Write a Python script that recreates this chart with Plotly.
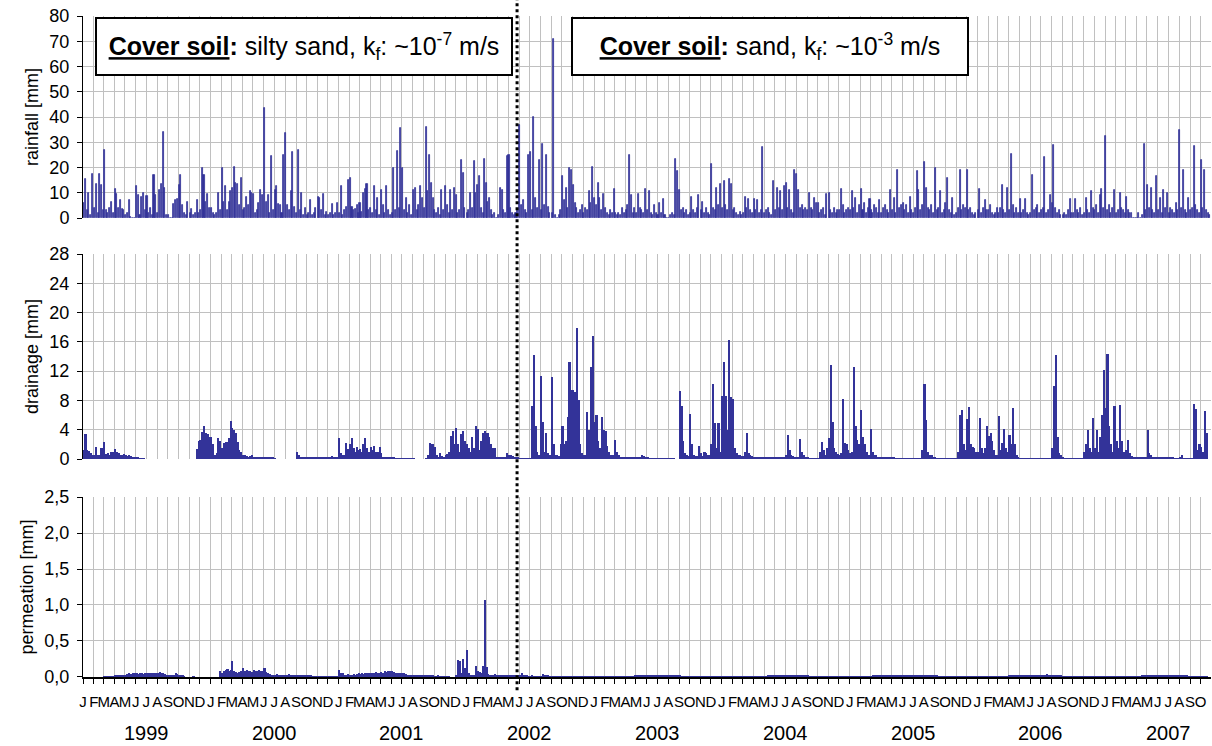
import pandas as pd
import plotly.graph_objects as go

# sample days inside every month (one per ~5 days)
SAMPLE_DAYS = [3, 8, 13, 18, 23, 28]
MONTH_LETTERS = ["J", "F", "M", "A", "M", "J", "J", "A", "S", "O", "N", "D"]
YEARS = [1999, 2000, 2001, 2002, 2003, 2004, 2005, 2006, 2007]

# rainfall [mm]
rain_1999 = [[6, 15.5, 3, 10, 1, 17.5], [4, 13.5, 2, 17.5, 13, 3], [27, 3, 2, 4, 6.5, 2],
             [11.5, 9.5, 4, 7, 3.5, 3], [1, 2, 7, 0.5, 0, 0], [12.5, 9, 1, 8.5, 10, 3],
             [8.7, 2, 4, 1, 17, 9], [2, 11, 13.5, 34, 12, 1], [1, 0, 0, 5.5, 7, 7.5],
             [13, 17, 5, 2, 1, 6.5], [2, 3.5, 1, 2, 7, 2], [3, 20, 17, 6.5, 9.5, 4]]
rain_2000 = [[4, 2, 1, 2, 10, 3], [20, 6.5, 12.5, 3, 6.5, 10.5], [11.8, 20.3, 14, 13.5, 5, 15.7],
             [3, 4, 8.5, 5, 10.5, 10], [9.5, 2, 3, 6, 11, 9], [43.5, 6.5, 9, 2, 24.5, 3],
             [11, 12.5, 5.5, 5, 2, 25], [33.5, 5, 3, 10.5, 26, 4.5], [2, 26.8, 3, 10, 1, 4],
             [1, 2, 7, 1, 2, 4], [8.5, 8, 3, 9.5, 1, 2.5], [1, 2, 5.5, 1, 2, 6]]
rain_2001 = [[2, 12.8, 1, 3, 4.5, 15], [15.7, 4.5, 3, 3.5, 5, 2], [6, 2.5, 10, 11.5, 13.5, 3],
             [4, 2, 12.5, 3, 8, 1], [11, 5, 2, 12.5, 3, 1], [2, 20, 3, 26.5, 4, 35.6],
             [20, 3, 8, 2, 5, 1], [11, 12, 3, 5, 12.5, 8], [4, 36, 10.5, 25, 14, 8],
             [3, 2, 4, 1, 11, 3], [12.5, 5, 2, 11, 3, 12], [9, 2, 3, 23, 18, 4]]
rain_2002 = [[2, 3, 10, 4, 22.7, 10], [13, 16.5, 4, 2, 23.5, 14], [6.5, 8, 3, 1, 2, 0],
             [1, 12, 11, 3, 2, 24.5], [25, 4, 2, 1, 2, 3], [36.7, 5, 7, 3, 2, 25],
             [26, 3, 40, 8, 4, 23], [3, 29.5, 5, 25, 4.5, 2], [2, 71, 1, 0, 1, 3],
             [16.5, 7, 12, 4, 20, 19], [13, 6, 4, 2, 3, 5], [2, 4, 3, 10.5, 6, 20.3]]
rain_2003 = [[8, 5, 14, 8, 3, 9.5], [4, 2, 1, 3, 2, 11.5], [2, 1, 2, 1, 4, 2],
             [3, 5, 25, 9, 2, 4], [2, 9.5, 4, 3, 2, 11.5], [3, 10.5, 2, 1, 5, 2],
             [1, 6, 2, 7.5, 1, 0], [0, 1, 2, 1, 23.5, 18.5], [11, 3, 4, 2, 3, 1],
             [2, 8.5, 3, 2, 4, 9], [3, 6.5, 2, 4, 2, 1], [21.5, 4, 3, 12, 5, 13.5]]
rain_2004 = [[4, 14.5, 5, 3, 15.5, 13.5], [3, 4, 2, 1, 2.5, 1], [2, 8.5, 4, 7.5, 3, 2],
             [7.5, 3, 7, 2, 3, 28], [2, 3, 4, 2, 1, 14.5], [3, 12, 4, 10.5, 3, 12.5],
             [14, 4, 11, 3, 2, 19], [17.5, 11, 4, 5, 3, 4], [3, 10, 4, 3, 8, 6],
             [6, 2, 3, 4, 1, 9.5], [10, 3, 2, 4, 2, 3], [3, 11.5, 5, 2, 3, 4]]
rain_2005 = [[3, 10.5, 4, 8, 2, 5], [11.5, 3, 6, 2, 4, 7.5], [3, 2, 5, 4, 2, 7],
             [2, 4, 5, 3, 2, 11], [3, 8, 2, 19, 4, 5], [6, 3, 5, 2, 8.5, 3],
             [2, 4, 18.5, 11, 3, 5], [22, 12, 4, 3, 5, 2], [20, 3, 4, 10.5, 2, 3],
             [6, 16, 3, 2, 8, 1], [2, 4, 19, 3, 5, 4], [19, 3, 4, 2, 1, 2]]
rain_2006 = [[3, 11.5, 2, 4, 7, 3], [3, 5, 2, 1, 2, 4], [2, 4, 13, 3, 2, 12],
             [3, 25.5, 5, 2, 4, 2], [7.5, 2, 3, 7.5, 2, 1], [2, 17, 3, 4, 5, 2],
             [3, 4, 24, 2, 3, 9], [6, 29, 4, 2, 3, 1], [1, 2, 1, 3, 7.5, 2],
             [2, 7.5, 3, 2, 4, 1], [2, 8, 3, 2, 10.5, 4], [3, 5, 2, 9, 11.5, 4]]
rain_2007 = [[32.5, 3, 5, 2, 4, 11], [2, 3, 10, 4, 3, 2], [8.5, 3, 2, 2, 0, 0],
             [0, 2, 0, 1, 29.5, 3], [13, 4, 12, 3, 2, 16.5], [3, 8, 2, 11, 4, 10],
             [2, 4, 3, 2, 6, 3], [35, 4, 19, 3, 2, 8], [3, 4, 28.5, 5, 3, 2],
             [23, 4, 19, 3, 2, 1]]

# drainage [mm]  (None = no measurement)
N = None
drain_1999 = [[1.2, 3.4, 1.2, 1.1, 0.8, 0.5], [0.6, 1.6, 0.5, 0.6, 1.5, 0.6], [2.3, 0.7, 0.8, 0.6, 0.9, 1.0],
              [1.3, 0.9, 0.8, 0.6, 0.5, 0.7], [0.5, 0.4, 0.5, 0.4, 0.3, 0.3], [0.2, 0.15, 0.1, 0.08, 0.05, N],
              [N] * 6, [N] * 6, [N] * 6,
              [N] * 6, [N, N, N, N, 1.3, 2.5], [2.6, 3.7, 4.5, 3.6, 3.4, 3.0]]
drain_2000 = [[3.0, 2.0, 0.5, 0.8, 2.8, 2.5], [1.5, 2.2, 2.3, 2.3, 2.8, 5.2], [4.3, 4.0, 3.5, 2.3, 1.2, 0.9],
              [0.6, 0.5, 0.4, 0.3, 0.4, 0.5], [0.3, 0.25, 0.2, 0.2, 0.2, 0.2], [0.2, 0.2, 0.2, 0.2, 0.2, 0.15],
              [0.1, N, N, N, N, N], [N] * 6, [0.9, 0.5, 0.2, 0.15, 0.15, 0.15],
              [0.15, 0.15, 0.15, 0.15, 0.15, 0.15], [0.15, 0.15, 0.15, 0.2, 0.15, 0.2], [0.2, 0.3, 0.4, 0.3, 0.3, 0.3]]
drain_2001 = [[2.9, 0.8, 0.6, 0.5, 2.2, 1.3], [2.0, 2.9, 1.5, 1.0, 1.6, 1.2], [1.3, 1.0, 2.0, 2.9, 1.5, 1.0],
              [1.6, 1.2, 1.8, 1.0, 0.9, 1.7], [0.8, 0.3, 0.3, 0.2, 0.2, 0.15], [0.15, 0.15, 0.1, 0.1, 0.1, 0.1],
              [0.1, 0.1, 0.1, 0.1, 0.1, 0.1], [0.1, N, N, N, N, N], [N, 0.1, 0.5, 2.2, 2.0, 2.1],
              [1.6, 0.5, 0.3, 0.8, 0.4, 0.3], [0.6, 0.7, 0.9, 3.1, 3.8, 2.0], [4.2, 2.0, 1.0, 3.4, 3.8, 2.5]]
drain_2002 = [[2.0, 1.5, 1.0, 3.0, 1.5, 4.5], [4.1, 1.2, 2.5, 3.6, 3.8, 3.5], [3.5, 3.0, 2.0, 1.5, 1.5, 0.3],
              [0.2, 0.2, 0.2, 0.3, 0.3, 0.8], [0.6, 0.5, 0.4, 0.3, 0.3, 0.2], [0.1, 0.1, 0.1, 0.1, 0.1, 0.1],
              [0.1, 7.2, 14.2, 4.5, 1.0, 0.5], [11.4, 5.0, 1.0, 3.5, 0.8, 0.5], [11.2, 2.0, 0.5, 0.5, 0.4, 2.0],
              [4.5, 2.0, 2.5, 5.8, 13.2, 9.4], [9.4, 9.2, 17.9, 8.0, 2.0, 0.8], [0.5, 0.6, 6.4, 4.0, 12.5, 16.8]]
drain_2003 = [[5.0, 6.0, 2.5, 1.5, 5.7, 4.0], [3.8, 1.8, 1.0, 0.6, 0.5, 0.4], [2.6, 1.0, 0.5, 0.3, 0.2, 0.2],
              [0.2, 0.2, 0.2, 0.2, 0.2, 0.2], [0.2, 0.2, 0.3, 0.5, 0.4, 0.3], [0.2, 0.1, 0.1, 0.1, 0.1, 0.1],
              [0.1, 0.1, 0.1, 0.1, 0.1, 0.1], [0.1, 0.1, 0.1, 0.1, N, N], [9.3, 7.3, 2.5, 0.8, 0.5, 0.4],
              [6.2, 2.0, 0.5, 0.4, 0.4, 1.8], [0.8, 0.4, 1.0, 0.8, 0.5, 0.6], [2.0, 10.2, 4.9, 1.5, 4.9, 1.0]]
drain_2004 = [[8.6, 13.3, 8.6, 4.0, 16.2, 8.4], [8.2, 1.5, 0.8, 0.6, 0.5, 0.4], [0.4, 1.0, 3.5, 0.8, 0.5, 0.4],
              [0.3, 0.2, 0.15, 0.15, 0.15, 0.15], [0.15, 0.15, 0.15, 0.15, 0.15, 0.15], [0.15, 0.15, 0.15, 0.15, 0.15, 0.15],
              [0.5, 3.3, 1.2, 0.5, 0.4, 0.3], [0.3, 0.3, 2.7, 1.0, 0.5, 0.3], [0.15, 0.1, 0.1, 0.1, 0.1, 0.1],
              [0.1, 1.0, 2.3, 1.2, 0.5, 1.5], [2.8, 12.8, 5.1, 1.5, 1.0, 0.7], [0.5, 0.8, 8.2, 2.2, 2.0, 1.2]]
drain_2005 = [[0.8, 1.0, 12.6, 4.5, 2.6, 2.0], [6.7, 3.0, 2.0, 1.0, 0.6, 0.5], [4.1, 1.0, 0.6, 0.5, 0.3, 0.2],
              [0.2, 0.2, 0.2, 0.2, 0.2, 0.2], [0.2, 0.15, 0.1, 0.08, 0.05, 0.05], [0.05, 0.05, 0.05, 0.05, 0.05, 0.05],
              [0.05, 0.05, 0.05, 0.05, 0.05, 1.2], [10.3, 5.3, 1.0, 0.6, 0.5, 0.3], [0.2, 0.1, 0.1, 0.1, 0.1, 0.1],
              [0.1, 0.1, 0.1, 0.1, 0.1, 0.1], [0.1, 1.0, 6.0, 6.7, 2.0, 1.2], [5.5, 7.1, 2.0, 1.7, 1.5, 1.0]]
drain_2006 = [[1.0, 5.6, 1.5, 0.8, 1.5, 4.5], [3.2, 3.5, 2.5, 1.2, 0.5, 0.5], [5.9, 1.2, 2.2, 4.1, 1.5, 1.0],
              [3.3, 2.0, 6.9, 2.0, 0.5, 0.2], [0.1, 0.1, 0.1, 0.1, 0.1, 0.1], [0.1, 0.1, 0.1, 0.1, 0.1, 0.1],
              [0.1, 0.1, 0.1, 0.1, 0.1, 0.1], [1.5, 10.0, 14.2, 3.0, 0.8, 0.5], [0.3, 0.1, 0.1, 0.1, 0.1, 0.1],
              [0.1, 0.1, 0.1, 0.1, 0.1, 0.1], [1.0, 2.0, 4.0, 1.5, 1.0, 5.6], [1.5, 3.9, 1.0, 3.0, 6.0, 12.2]]
drain_2007 = [[6.9, 14.4, 4.5, 2.0, 1.0, 7.3], [2.5, 1.5, 7.4, 2.5, 1.0, 0.8], [1.2, 2.6, 0.8, 0.4, 0.3, 0.3],
              [0.3, 0.3, 0.3, 0.3, 0.3, 0.3], [4.0, 0.8, 0.5, 0.3, 0.2, 0.2], [0.2, 0.2, 0.2, 0.2, 0.2, 0.2],
              [0.2, 0.2, 0.15, 0.1, 0.05, 0.05], [0.3, 0.5, 0.1, 0.05, 0.05, 0.05], [0.05, 0.05, 7.5, 6.8, 1.2, 2.0],
              [1.7, 1.0, 6.5, 3.5, N, N]]

# permeation [mm]
perm_1999 = [[N] * 6, [N] * 6, [0.01, 0.01, 0.01, 0.01, 0.01, 0.01],
             [0.015, 0.02, 0.02, 0.02, 0.025, 0.03], [0.03, 0.04, 0.05, 0.04, 0.05, 0.05], [0.05, 0.04, 0.05, 0.05, 0.04, 0.05],
             [0.05, 0.06, 0.05, 0.06, 0.06, 0.06], [0.06, 0.07, 0.06, 0.05, 0.04, 0.03], [0.03, 0.02, 0.03, 0.03, 0.05, 0.04],
             [0.02, 0.02, 0.02, 0.01, N, N], [N, N, 0.01, N, N, N], [N] * 6]
perm_2000 = [[N, N, N, N, N, 0.08], [0.06, 0.08, 0.1, 0.11, 0.09, 0.1], [0.22, 0.08, 0.07, 0.06, 0.07, 0.08],
             [0.12, 0.09, 0.1, 0.08, 0.09, 0.07], [0.1, 0.09, 0.08, 0.1, 0.09, 0.08], [0.12, 0.07, 0.05, 0.04, 0.03, 0.03],
             [0.03, 0.04, 0.03, 0.03, 0.03, 0.03], [0.03, 0.03, 0.04, 0.03, 0.03, 0.03], [0.03, 0.02, 0.03, 0.03, 0.02, 0.02],
             [0.02, 0.02, 0.02, 0.01, 0.01, 0.01], [0.01, 0.01, 0.01, 0.01, 0.01, 0.01], [0.01, 0.01, 0.01, 0.01, 0.01, 0.01]]
perm_2001 = [[0.1, 0.06, 0.05, 0.03, 0.03, 0.04], [0.03, 0.03, 0.04, 0.03, 0.04, 0.05], [0.04, 0.05, 0.04, 0.06, 0.05, 0.05],
             [0.06, 0.05, 0.05, 0.07, 0.06, 0.06], [0.07, 0.06, 0.08, 0.07, 0.09, 0.08], [0.09, 0.07, 0.06, 0.05, 0.05, 0.05],
             [0.05, 0.06, 0.04, 0.03, 0.03, 0.03], [0.03, 0.03, 0.02, 0.03, 0.03, 0.02], [0.03, 0.02, 0.02, 0.03, 0.02, 0.02],
             [0.01, 0.01, 0.02, 0.01, 0.01, 0.01], [0.01, 0.01, 0.01, 0.0, 0.0, N], [0.02, 0.24, 0.22, 0.05, 0.25, 0.13]]
perm_2002 = [[0.37, 0.05, 0.03, 0.02, 0.03, 0.15], [0.08, 0.07, 0.06, 0.15, 1.07, 0.14], [0.04, 0.03, 0.03, 0.03, 0.04, 0.03],
             [0.03, 0.03, 0.03, 0.03, 0.03, 0.02], [0.02, 0.02, 0.02, 0.02, 0.03, 0.02], [0.02, 0.05, 0.03, 0.02, 0.02, 0.01],
             [0.01, 0.02, 0.01, 0.01, 0.01, 0.01], [0.01, 0.04, 0.02, 0.03, 0.02, 0.01], [0.01, 0.01, 0.01, 0.01, 0.01, 0.01],
             [0.01, 0.01, 0.01, 0.01, 0.01, 0.01], [0.01, 0.01, 0.01, 0.01, 0.01, 0.01], [0.01, 0.01, 0.01, 0.01, 0.01, 0.01]]
perm_2003 = [[0.01, 0.01, 0.01, 0.01, 0.01, 0.01], [0.01, 0.01, 0.01, 0.01, 0.01, 0.01], [0.01, 0.01, 0.01, 0.01, 0.01, 0.01],
             [0.01, 0.01, 0.01, 0.01, 0.01, 0.015], [0.02, 0.02, 0.02, 0.02, 0.02, 0.02], [0.02, 0.02, 0.02, 0.025, 0.025, 0.02],
             [0.02, 0.02, 0.02, 0.02, 0.02, 0.02], [0.02, 0.02, 0.025, 0.03, 0.02, 0.02], [0.015, 0.01, 0.01, 0.01, 0.01, 0.01],
             [0.01, 0.01, 0.01, 0.01, 0.01, 0.01], [0.01, 0.01, 0.01, 0.01, 0.01, 0.01], [0.01, 0.01, 0.01, 0.01, 0.01, 0.01]]
perm_2004 = [[0.01, 0.01, 0.01, 0.01, 0.01, 0.01], [0.01, 0.01, 0.01, 0.01, 0.01, 0.01], [0.01, 0.01, 0.01, 0.01, 0.01, 0.01],
             [0.01, 0.01, 0.01, 0.01, 0.01, 0.01], [0.01, 0.01, 0.015, 0.015, 0.015, 0.015], [0.02, 0.02, 0.02, 0.02, 0.02, 0.02],
             [0.02, 0.02, 0.02, 0.02, 0.02, 0.02], [0.02, 0.02, 0.02, 0.02, 0.02, 0.02], [0.015, 0.01, 0.01, 0.01, 0.01, 0.01],
             [0.01, 0.01, 0.01, 0.01, 0.01, 0.01], [0.01, 0.01, 0.01, 0.01, 0.01, 0.01], [0.01, 0.01, 0.01, 0.01, 0.01, 0.01]]
perm_2005 = [[0.01, 0.01, 0.01, 0.01, 0.01, 0.01], [0.01, 0.01, 0.01, 0.01, 0.01, 0.01], [0.01, 0.015, 0.015, 0.015, 0.02, 0.02],
             [0.02, 0.02, 0.02, 0.02, 0.02, 0.02], [0.02, 0.02, 0.025, 0.02, 0.02, 0.02], [0.02, 0.025, 0.025, 0.02, 0.02, 0.02],
             [0.02, 0.02, 0.02, 0.02, 0.02, 0.02], [0.02, 0.02, 0.02, 0.02, 0.02, 0.02], [0.02, 0.015, 0.01, 0.01, 0.01, 0.01],
             [0.01, 0.01, 0.01, 0.01, 0.01, 0.01], [0.01, 0.01, 0.01, 0.01, 0.01, 0.01], [0.01, 0.01, 0.01, 0.01, 0.01, 0.01]]
perm_2006 = [[0.01, 0.01, 0.01, 0.01, 0.01, 0.01], [0.01, 0.01, 0.01, 0.01, 0.01, 0.01], [0.01, 0.01, 0.01, 0.01, 0.01, 0.01],
             [0.015, 0.02, 0.02, 0.02, 0.02, 0.02], [0.02, 0.02, 0.025, 0.02, 0.025, 0.02], [0.02, 0.025, 0.02, 0.025, 0.03, 0.025],
             [0.025, 0.03, 0.03, 0.035, 0.03, 0.025], [0.03, 0.025, 0.02, 0.02, 0.02, 0.015], [0.01, 0.01, 0.01, 0.01, 0.01, 0.01],
             [0.01, 0.01, 0.01, 0.01, 0.01, 0.01], [0.01, 0.01, 0.01, 0.01, 0.01, 0.01], [0.01, 0.01, 0.01, 0.01, 0.01, 0.01]]
perm_2007 = [[0.01, 0.01, 0.01, 0.01, 0.01, 0.01], [0.01, 0.01, 0.01, 0.01, 0.01, 0.01], [0.01, 0.01, 0.01, 0.01, 0.01, 0.01],
             [0.01, 0.01, 0.01, 0.015, 0.015, 0.015], [0.02, 0.02, 0.02, 0.02, 0.02, 0.02], [0.02, 0.02, 0.025, 0.02, 0.02, 0.02],
             [0.02, 0.02, 0.02, 0.02, 0.02, 0.02], [0.02, 0.02, 0.02, 0.02, 0.015, 0.01], [0.01, 0.01, 0.01, 0.01, 0.01, 0.01],
             [0.01, 0.01, 0.01, 0.01, N, N]]

rain = dict(zip(YEARS, [rain_1999, rain_2000, rain_2001, rain_2002, rain_2003,
                        rain_2004, rain_2005, rain_2006, rain_2007]))
drain = dict(zip(YEARS, [drain_1999, drain_2000, drain_2001, drain_2002, drain_2003,
                         drain_2004, drain_2005, drain_2006, drain_2007]))
perm = dict(zip(YEARS, [perm_1999, perm_2000, perm_2001, perm_2002, perm_2003,
                        perm_2004, perm_2005, perm_2006, perm_2007]))


def flatten(by_year):
    xs, ys = [], []
    for year, months in by_year.items():
        for m, vals in enumerate(months, start=1):
            for d, v in zip(SAMPLE_DAYS, vals):
                if v is None:
                    continue
                xs.append(pd.Timestamp(year, m, d))
                ys.append(v)
    return xs, ys


BLUE = "#333399"
GRID = "#c0c0c0"
FONT = "Liberation Sans, Arial, sans-serif"
DAY = 86400000

fig = go.Figure()

x, y = flatten(rain)
fig.add_trace(go.Bar(x=x, y=y, width=[3 * DAY] * len(x), marker_color=BLUE,
                     marker_line=dict(color=BLUE, width=0.8), xaxis="x", yaxis="y"))
x, y = flatten(drain)
fig.add_trace(go.Bar(x=x, y=y, width=[6 * DAY] * len(x), marker_color=BLUE,
                     marker_line_width=0, xaxis="x2", yaxis="y2"))
x, y = flatten(perm)
fig.add_trace(go.Bar(x=x, y=y, width=[6 * DAY] * len(x), marker_color=BLUE,
                     marker_line_width=0, xaxis="x3", yaxis="y3"))

month_starts = pd.date_range("1999-01-01", "2007-10-01", freq="MS")
xrange = ["1999-01-01", "2007-10-31"]

xbase = dict(type="date", range=xrange, tickvals=list(month_starts), showgrid=True,
             gridcolor=GRID, gridwidth=1, zeroline=False)
ybase = dict(showline=True, linecolor="black", linewidth=1, ticks="outside", ticklen=5,
             tickcolor="black", gridcolor=GRID, gridwidth=1, zeroline=False,
             tickfont=dict(size=18, color="black"), title_font=dict(size=18, color="black"),
             title_standoff=6, ticklabelstandoff=4)

fig.update_layout(
    width=1212, height=746,
    margin=dict(l=83, r=1, t=16, b=69, autoexpand=False),
    paper_bgcolor="white", plot_bgcolor="white",
    font=dict(family=FONT, color="black"),
    separators=",.",
    showlegend=False,
    bargap=0,
    xaxis=dict(xbase, anchor="y", showticklabels=False, ticks=""),
    xaxis2=dict(xbase, anchor="y2", showticklabels=False, ticks=""),
    xaxis3=dict(xbase, anchor="y3", ticktext=[MONTH_LETTERS[d.month - 1] for d in month_starts],
                tickangle=0, ticks="outside", ticklen=5, tickcolor="black",
                showline=True, linecolor="black", linewidth=2,
                tickfont=dict(size=15, color="black"), ticklabelstandoff=5),
    yaxis=dict(ybase, domain=[0.6944, 1.0], range=[0, 80], dtick=10, anchor="x",
               title_text="rainfall [mm]"),
    yaxis2=dict(ybase, domain=[0.3298, 0.6399], range=[0, 28], dtick=4, anchor="x2",
                title_text="drainage [mm]"),
    yaxis3=dict(ybase, domain=[0.0, 0.2723], range=[0, 2.5], dtick=0.5, tickformat=".1f",
                anchor="x3", title_text="permeation [mm]"),
)

# year labels under the month letters
for yr in YEARS:
    fig.add_annotation(x=f"{yr}-07-01", y=-0.0847, xref="x3", yref="paper",
                       text=str(yr), showarrow=False, font=dict(size=20, color="black"),
                       xanchor="center", yanchor="middle")

# boundary between the two cover soils
fig.add_shape(type="line", x0="2002-05-26", x1="2002-05-26", xref="x", yref="paper",
              y0=-0.02, y1=1.03, line=dict(color="black", width=3, dash="dot"))

box_font = dict(size=25, color="black", family=FONT)
fig.add_annotation(x=0.1959, y=0.9539, xref="paper", yref="paper", showarrow=False,
                   text="<b><u>Cover soil</u>:</b> silty sand, k<sub>f</sub>: ~10<sup>-7</sup> m/s",
                   font=box_font, bgcolor="white", bordercolor="black", borderwidth=2,
                   borderpad=0, width=414, height=55, align="center",
                   xanchor="center", yanchor="middle")
fig.add_annotation(x=0.609, y=0.9539, xref="paper", yref="paper", showarrow=False,
                   text="<b><u>Cover soil</u>:</b> sand, k<sub>f</sub>: ~10<sup>-3</sup> m/s",
                   font=box_font, bgcolor="white", bordercolor="black", borderwidth=2,
                   borderpad=0, width=394, height=55, align="center",
                   xanchor="center", yanchor="middle")

# the page body has a default 8px margin; drop it so the figure fills the window
fig.write_html("out.html", config={"displayModeBar": False},
               post_script="document.body.style.margin='0px';")
